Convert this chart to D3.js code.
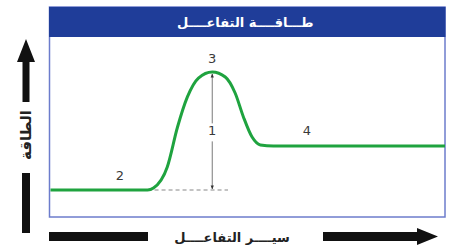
<!DOCTYPE html>
<html>
<head>
<meta charset="utf-8">
<script src="https://cdn.jsdelivr.net/npm/d3@7"></script>
<style>
  html, body { margin: 0; padding: 0; background: #fff; }
  svg { display: block; }
  text { font-family: "DejaVu Sans", sans-serif; }
</style>
</head>
<body>
<div id="chart"></div>
<script>
// reaction progress (0-100) and energy (0-100)
var progress = [0, 24.6, 26.1, 29.6, 32.2, 34.7, 37.5, 41, 44.3, 46.8, 48.9, 51.1, 53.2, 56.5, 100];
var energy = [15, 15, 16.1, 27.8, 50, 66.7, 77.2, 80.6, 77.8, 68.9, 55.6, 44.4, 40, 39.4, 39.4];
var title = "طـــاقــــة التفاعــــل";
var yLabel = "الطاقة";
var xLabel = "سيــــر التفاعــــل";
// annotation labels: text, progress, energy
var labels = [
    { t: "3", x: 41, y: 85.5 },
    { t: "1", x: 41, y: 45.5 },
    { t: "2", x: 17.6, y: 20.5 },
    { t: "4", x: 65, y: 45.5 }
];
var reactant = 15, peak = 80.6, peakAt = 41, dashEnd = 45;

var W = 454, H = 251;
var frame = { left: 49.5, right: 445, top: 7, head: 37, bottom: 217 };

var svg = d3.select("#chart").append("svg").attr("width", W).attr("height", H);

var x = d3.scaleLinear().domain([0, 100]).range([frame.left + 1, frame.right]);
var y = d3.scaleLinear().domain([0, 100]).range([frame.bottom, frame.head]);

var defs = svg.append("defs");
function arrowHead(id) {
    defs.append("marker").attr("id", id)
        .attr("viewBox", "0 0 10 10").attr("refX", 9).attr("refY", 5)
        .attr("markerWidth", 5).attr("markerHeight", 5).attr("orient", "auto")
        .append("path").attr("d", "M0,1 L10,5 L0,9 Z").attr("fill", "#333");
}
arrowHead("ah");

// frame + header
svg.append("rect").attr("x", frame.left).attr("y", frame.top)
    .attr("width", frame.right - frame.left).attr("height", frame.bottom - frame.top)
    .attr("fill", "white").attr("stroke", "#6c7ccc").attr("stroke-width", 1.5);
svg.append("rect").attr("x", frame.left - 0.5).attr("y", frame.top)
    .attr("width", frame.right - frame.left + 1).attr("height", frame.head - frame.top)
    .attr("fill", "#1f3d99");
svg.append("text").text(title)
    .attr("x", (frame.left + frame.right) / 2 - 2).attr("y", 27)
    .attr("text-anchor", "middle").attr("fill", "white")
    .attr("font-size", 13).attr("font-weight", "bold");

// dashed reactant level
svg.append("line")
    .attr("x1", x(progress[1])).attr("x2", x(dashEnd))
    .attr("y1", y(reactant)).attr("y2", y(reactant))
    .attr("stroke", "#888").attr("stroke-width", 1.2).attr("stroke-dasharray", "4,3");

// activation energy arrow (split around label 1)
svg.append("line")
    .attr("x1", x(peakAt)).attr("x2", x(peakAt))
    .attr("y1", y(52)).attr("y2", y(peak) + 2)
    .attr("stroke", "#555").attr("stroke-width", 0.8).attr("marker-end", "url(#ah)");
svg.append("line")
    .attr("x1", x(peakAt)).attr("x2", x(peakAt))
    .attr("y1", y(42)).attr("y2", y(reactant) - 1)
    .attr("stroke", "#555").attr("stroke-width", 0.8).attr("marker-end", "url(#ah)");

// energy curve
var line = d3.line()
    .x(function (d, i) { return x(progress[i]); })
    .y(function (d) { return y(d); })
    .curve(d3.curveMonotoneX);
svg.append("path").datum(energy)
    .attr("d", line).attr("fill", "none")
    .attr("stroke", "#1fa33f").attr("stroke-width", 3);

svg.selectAll("text.lab").data(labels).enter().append("text")
    .attr("class", "lab")
    .attr("x", function (d) { return x(d.x); })
    .attr("y", function (d) { return y(d.y); })
    .attr("text-anchor", "middle").attr("font-size", 13)
    .attr("fill", "#3a3a3a").text(function (d) { return d.t; });

// y axis arrow
svg.append("path")
    .attr("d", "M26,39 L35,62 L29.5,62 L29.5,102 L22.5,102 L22.5,62 L17,62 Z")
    .attr("fill", "#111");
svg.append("rect").attr("x", 22).attr("y", 173).attr("width", 8).attr("height", 60).attr("fill", "#111");
svg.append("text").text(yLabel)
    .attr("transform", "translate(31,135) rotate(-90)")
    .attr("text-anchor", "middle").attr("font-size", 15).attr("font-weight", "bold")
    .attr("fill", "#222");

// x axis arrow
svg.append("rect").attr("x", 49).attr("y", 232).attr("width", 99).attr("height", 9).attr("fill", "#111");
svg.append("path")
    .attr("d", "M323,232 L417,232 L417,228 L438,236.5 L417,245 L417,241 L323,241 Z")
    .attr("fill", "#111");
svg.append("text").text(xLabel)
    .attr("x", 232).attr("y", 242)
    .attr("text-anchor", "middle").attr("font-size", 13).attr("font-weight", "bold")
    .attr("fill", "#222");
</script>
</body>
</html>
